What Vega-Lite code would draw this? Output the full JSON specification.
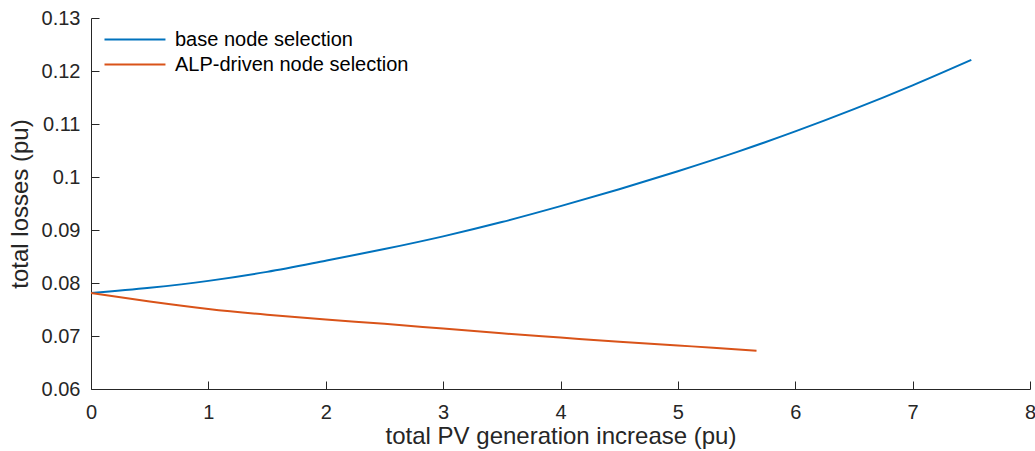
{
  "$schema": "https://vega.github.io/schema/vega-lite/v6.json",
  "width": 939,
  "height": 371,
  "autosize": "none",
  "padding": {"left": 91, "top": 18, "right": 5, "bottom": 62},
  "background": "white",
  "config": {
    "view": {"stroke": null},
    "font": "Liberation Sans",
    "axis": {
      "grid": false,
      "domainColor": "#262626",
      "tickColor": "#262626",
      "labelColor": "#262626",
      "titleColor": "#262626",
      "labelFont": "Liberation Sans",
      "titleFont": "Liberation Sans",
      "labelFontSize": 20,
      "titleFontSize": 24,
      "titleFontWeight": "normal",
      "domainWidth": 1,
      "tickWidth": 1,
      "labelFlush": false,
      "labelOverlap": false
    }
  },
  "data": {
    "values": [
      {"x": 0, "y": 0.0781, "s": "base node selection"},
      {"x": 0.5, "y": 0.0791, "s": "base node selection"},
      {"x": 1, "y": 0.0804, "s": "base node selection"},
      {"x": 1.5, "y": 0.0821, "s": "base node selection"},
      {"x": 2, "y": 0.0842, "s": "base node selection"},
      {"x": 2.5, "y": 0.0864, "s": "base node selection"},
      {"x": 3, "y": 0.0888, "s": "base node selection"},
      {"x": 3.5, "y": 0.0915, "s": "base node selection"},
      {"x": 4, "y": 0.0945, "s": "base node selection"},
      {"x": 4.5, "y": 0.0977, "s": "base node selection"},
      {"x": 5, "y": 0.1011, "s": "base node selection"},
      {"x": 5.5, "y": 0.1047, "s": "base node selection"},
      {"x": 6, "y": 0.1086, "s": "base node selection"},
      {"x": 6.5, "y": 0.1128, "s": "base node selection"},
      {"x": 7, "y": 0.1173, "s": "base node selection"},
      {"x": 7.5, "y": 0.1221, "s": "base node selection"},
      {"x": 0, "y": 0.0781, "s": "ALP-driven node selection"},
      {"x": 0.5, "y": 0.0765, "s": "ALP-driven node selection"},
      {"x": 1, "y": 0.0751, "s": "ALP-driven node selection"},
      {"x": 1.5, "y": 0.0740, "s": "ALP-driven node selection"},
      {"x": 2, "y": 0.0731, "s": "ALP-driven node selection"},
      {"x": 2.5, "y": 0.0723, "s": "ALP-driven node selection"},
      {"x": 3, "y": 0.0714, "s": "ALP-driven node selection"},
      {"x": 3.5, "y": 0.0705, "s": "ALP-driven node selection"},
      {"x": 4, "y": 0.0697, "s": "ALP-driven node selection"},
      {"x": 4.5, "y": 0.0689, "s": "ALP-driven node selection"},
      {"x": 5, "y": 0.0682, "s": "ALP-driven node selection"},
      {"x": 5.3, "y": 0.0678, "s": "ALP-driven node selection"},
      {"x": 5.67, "y": 0.0672, "s": "ALP-driven node selection"}
    ]
  },
  "mark": {"type": "line", "strokeWidth": 2, "interpolate": "monotone"},
  "encoding": {
    "x": {
      "field": "x", "type": "quantitative",
      "scale": {"domain": [0, 8], "nice": false, "zero": false},
      "axis": {"title": "total PV generation increase (pu)", "values": [0,1,2,3,4,5,6,7,8], "format": "d", "tickSize": -8, "labelPadding": 21, "titlePadding": 2}
    },
    "y": {
      "field": "y", "type": "quantitative",
      "scale": {"domain": [0.06, 0.13], "nice": false, "zero": false},
      "axis": {"title": "total losses (pu)", "values": [0.06,0.07,0.08,0.09,0.1,0.11,0.12,0.13], "format": ".2~f", "tickSize": -8, "labelPadding": 19, "titlePadding": 9}
    },
    "color": {
      "field": "s", "type": "nominal",
      "scale": {"domain": ["base node selection", "ALP-driven node selection"], "range": ["#0072BD", "#D95319"]},
      "legend": {
        "title": null,
        "orient": "none",
        "legendX": 15,
        "legendY": 10,
        "symbolType": "M-1.28,0L4.72,0",
        "symbolSize": 413,
        "symbolStrokeWidth": 2,
        "labelFontSize": 20,
        "labelLimit": 400,
        "labelOffset": 46,
        "labelColor": "#000000",
        "labelFont": "Liberation Sans",
        "rowPadding": 3
      }
    }
  }
}
